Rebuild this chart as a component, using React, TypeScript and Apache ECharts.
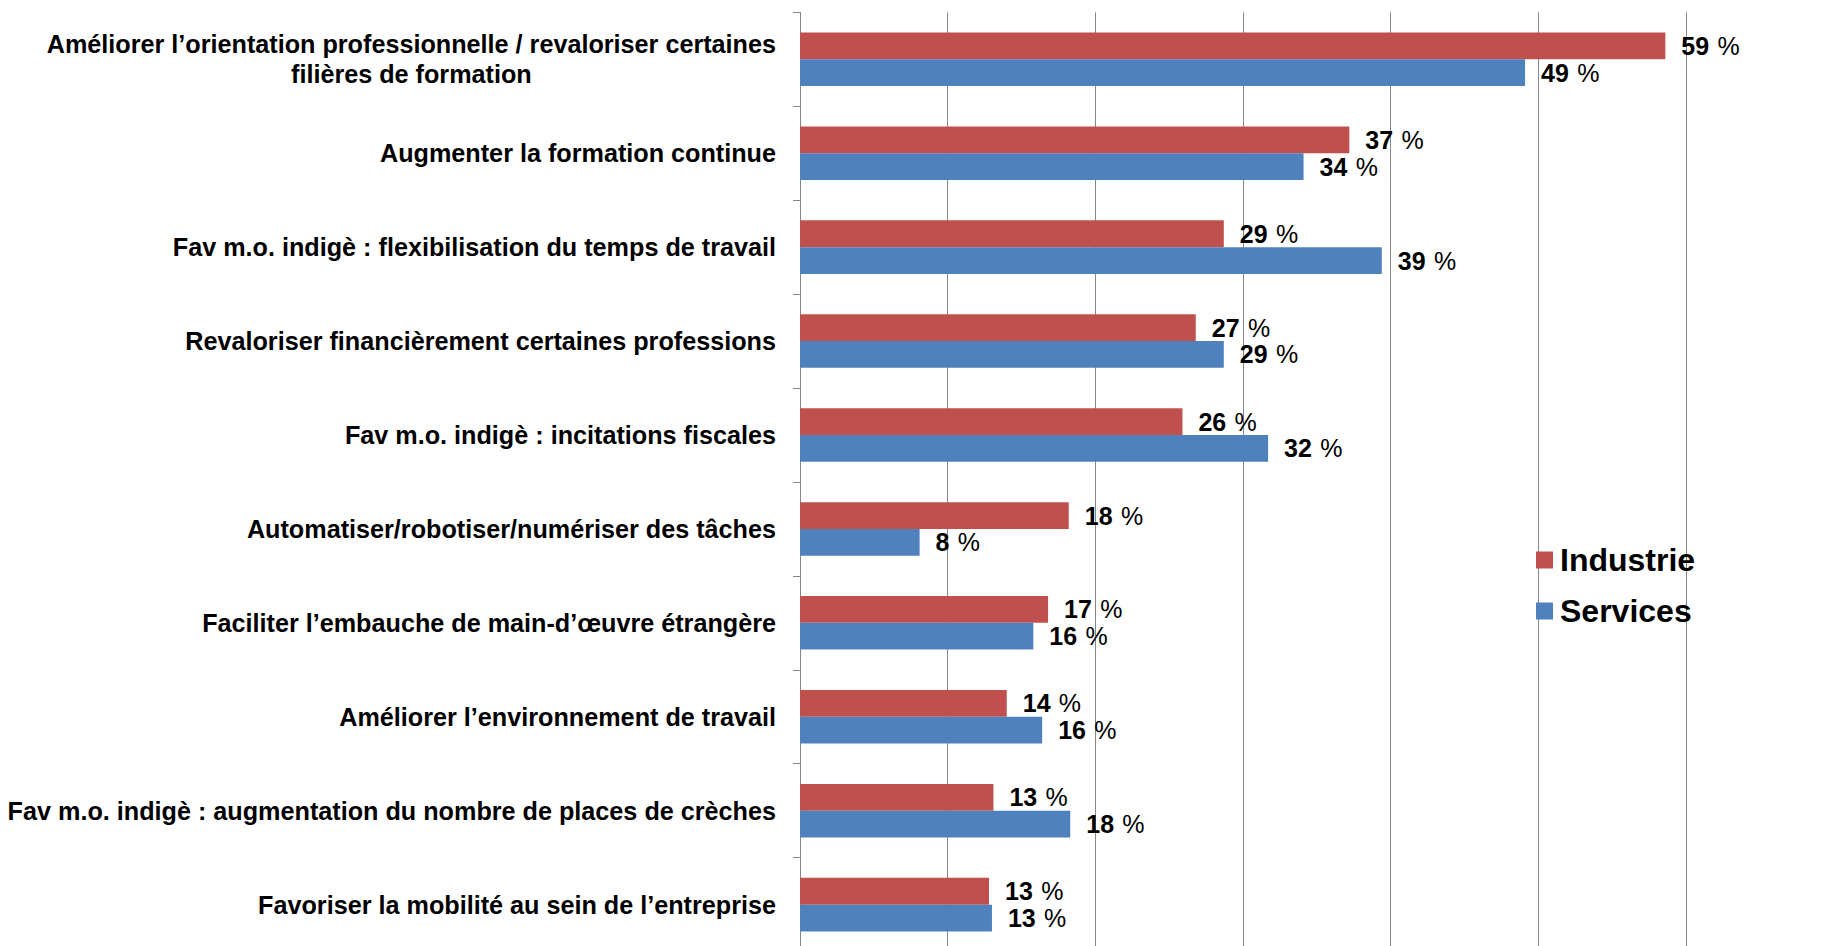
import React, { useEffect, useRef } from "react";
import * as echarts from "echarts";

const categories = [
  "Améliorer l’orientation professionnelle / revaloriser certaines\nfilières de formation",
  "Augmenter la formation continue",
  "Fav m.o. indigè : flexibilisation du temps de travail",
  "Revaloriser financièrement certaines professions",
  "Fav m.o. indigè : incitations fiscales",
  "Automatiser/robotiser/numériser des tâches",
  "Faciliter l’embauche de main-d’œuvre étrangère",
  "Améliorer l’environnement de travail",
  "Fav m.o. indigè : augmentation du nombre de places de crèches",
  "Favoriser la mobilité au sein de l’entreprise",
];
const seriesNames = ["Industrie", "Services"];
const industrie = [58.6, 37.2, 28.7, 26.8, 25.9, 18.2, 16.8, 14.0, 13.1, 12.8];
const services = [49.1, 34.1, 39.4, 28.7, 31.7, 8.1, 15.8, 16.4, 18.3, 13.0];

const FONT = "'Liberation Sans', Arial, sans-serif";
const GRAY = "#868686";

export default function App() {
  const ref = useRef<HTMLDivElement>(null);
  useEffect(() => {
    if (!ref.current) return;
    const chart = echarts.init(ref.current, null, { renderer: "svg" });
    const valueLabel = {
      show: true,
      position: "right",
      distance: 16,
      formatter: (p: any) => `{n|${Math.round(p.value)}} {p|%}`,
      rich: {
        n: { fontSize: 25, fontWeight: "bold", fontFamily: FONT, color: "#000" },
        p: { fontSize: 25, fontWeight: "normal", fontFamily: FONT, color: "#000", padding: [0, 0, 0, 5] },
      },
    };
    chart.setOption({
      animation: false,
      backgroundColor: "#fff",
      legend: {
        orient: "vertical",
        left: 1531,
        top: 539,
        itemWidth: 17,
        itemHeight: 17,
        itemGap: 19,
        icon: "rect",
        data: seriesNames,
        textStyle: {
          fontSize: 32,
          fontWeight: "bold",
          fontFamily: FONT,
          color: "#000",
          padding: [0, 0, 0, 2],
        },
      },
      grid: { left: 800, top: 12.3, width: 886, height: 939.3, outerBoundsMode: "none", containLabel: false },
      xAxis: {
        type: "value",
        min: 0,
        max: 60,
        interval: 10,
        axisLabel: { show: false },
        axisLine: { show: false },
        axisTick: { show: false },
        splitLine: { show: true, lineStyle: { color: GRAY, width: 1 } },
      },
      yAxis: {
        type: "category",
        inverse: true,
        data: categories,
        axisLine: { show: true, lineStyle: { color: GRAY, width: 1 } },
        axisTick: { show: true, length: 7, lineStyle: { color: GRAY } },
        axisLabel: {
          interval: 0,
          margin: 24,
          align: "right",
          formatter: (v: string) =>
            v
              .split("\n")
              .map((l) => `{c|${l}}`)
              .join("\n"),
          rich: {
            c: {
              align: "center",
              fontSize: 25.2,
              fontWeight: "bold",
              fontFamily: FONT,
              color: "#000",
              lineHeight: 30,
            },
          },
        },
      },
      series: [
        {
          name: seriesNames[0],
          type: "bar",
          data: industrie,
          barGap: "0%",
          barCategoryGap: "43%",
          itemStyle: { color: "#C0504D" },
          label: valueLabel,
        },
        {
          name: seriesNames[1],
          type: "bar",
          data: services,
          barGap: "0%",
          barCategoryGap: "43%",
          itemStyle: { color: "#4F81BD" },
          label: valueLabel,
        },
      ],
    });
    return () => chart.dispose();
  }, []);
  return (
    <div
      ref={ref}
      style={{ position: "fixed", left: 0, top: 0, width: 1826, height: 970, background: "#fff" }}
    />
  );
}
